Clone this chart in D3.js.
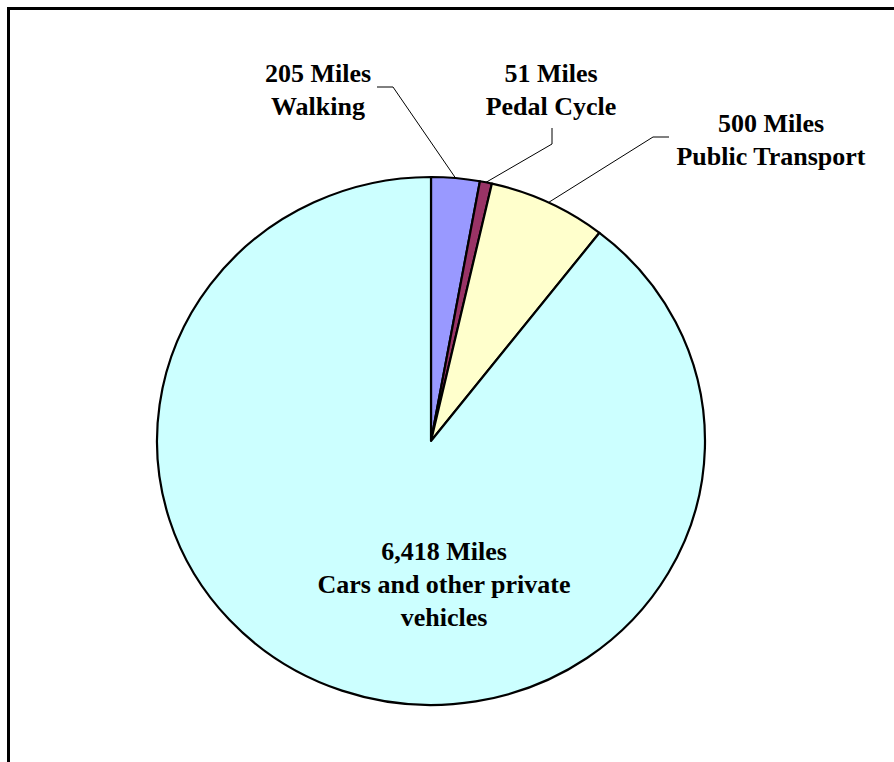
<!DOCTYPE html>
<html>
<head>
<meta charset="utf-8">
<script src="https://cdn.jsdelivr.net/npm/d3@7"></script>
<style>
  html, body { margin: 0; padding: 0; background: #fff; }
  svg { display: block; }
  text { font-family: "Liberation Serif", "Times New Roman", serif; font-weight: bold; fill: #000; }
</style>
</head>
<body>
<svg id="chart" width="894" height="762"></svg>
<script>
// Travel distance by mode, in miles per year
const categories = ["Walking", "Pedal Cycle", "Public Transport", "Cars and other private vehicles"];
const miles = [205, 51, 500, 6418];
const colors = ["#9999FF", "#993366", "#FFFFCC", "#CCFFFF"];
const valueLabels = ["205 Miles", "51 Miles", "500 Miles", "6,418 Miles"];
const nameLines = [["Walking"], ["Pedal Cycle"], ["Public Transport"], ["Cars and other private", "vehicles"]];

const W = 894, H = 762;
const cx = 431, cy = 441, rx = 274, ry = 264;
const fontSize = 26, lineGap = 33;

// Label placement: text centre / first baseline, plus leader elbow and end points
const labelLayout = [
  { x: 318, y: 82, elbow: [393, 87], end: [377, 87] },
  { x: 551, y: 82, elbow: [552, 144], end: [552, 128] },
  { x: 771, y: 132, elbow: [653, 137], end: [669, 137] },
  { x: 444, y: 560, inside: true }
];

const svg = d3.select("#chart");

// Outer frame
svg.append("rect")
  .attr("x", 8.5).attr("y", 8.5)
  .attr("width", W + 20).attr("height", H + 20)
  .attr("fill", "none").attr("stroke", "#000").attr("stroke-width", 3);

const data = categories.map((c, i) => ({ name: c, value: miles[i], color: colors[i], i }));
const pie = d3.pie().value(d => d.value).sort(null);
const arcs = pie(data);
const arc = d3.arc().innerRadius(0).outerRadius(ry);

// Pie slices (slightly wider than tall)
const g = svg.append("g").attr("transform", `translate(${cx},${cy}) scale(${rx / ry},1)`);
g.selectAll("path")
  .data(arcs)
  .join("path")
  .attr("d", arc)
  .attr("fill", d => d.data.color)
  .attr("stroke", "#000")
  .attr("stroke-width", 2.2)
  .attr("stroke-linejoin", "round")
  .attr("vector-effect", "non-scaling-stroke");

// Leader lines from slice edge to label
arcs.forEach((a, i) => {
  const L = labelLayout[i];
  if (L.inside) return;
  const mid = (a.startAngle + a.endAngle) / 2;
  const px = cx + rx * Math.sin(mid);
  const py = cy - ry * Math.cos(mid);
  svg.append("polyline")
    .attr("points", [[px, py], L.elbow, L.end].map(p => p.join(",")).join(" "))
    .attr("fill", "none")
    .attr("stroke", "#000")
    .attr("stroke-width", 1);
});

// Labels
arcs.forEach((a, i) => {
  const L = labelLayout[i];
  const t = svg.append("text")
    .attr("text-anchor", "middle")
    .attr("font-size", fontSize);
  [valueLabels[i], ...nameLines[i]].forEach((line, k) => {
    t.append("tspan").attr("x", L.x).attr("y", L.y + k * lineGap).text(line);
  });
});
</script>
</body>
</html>
